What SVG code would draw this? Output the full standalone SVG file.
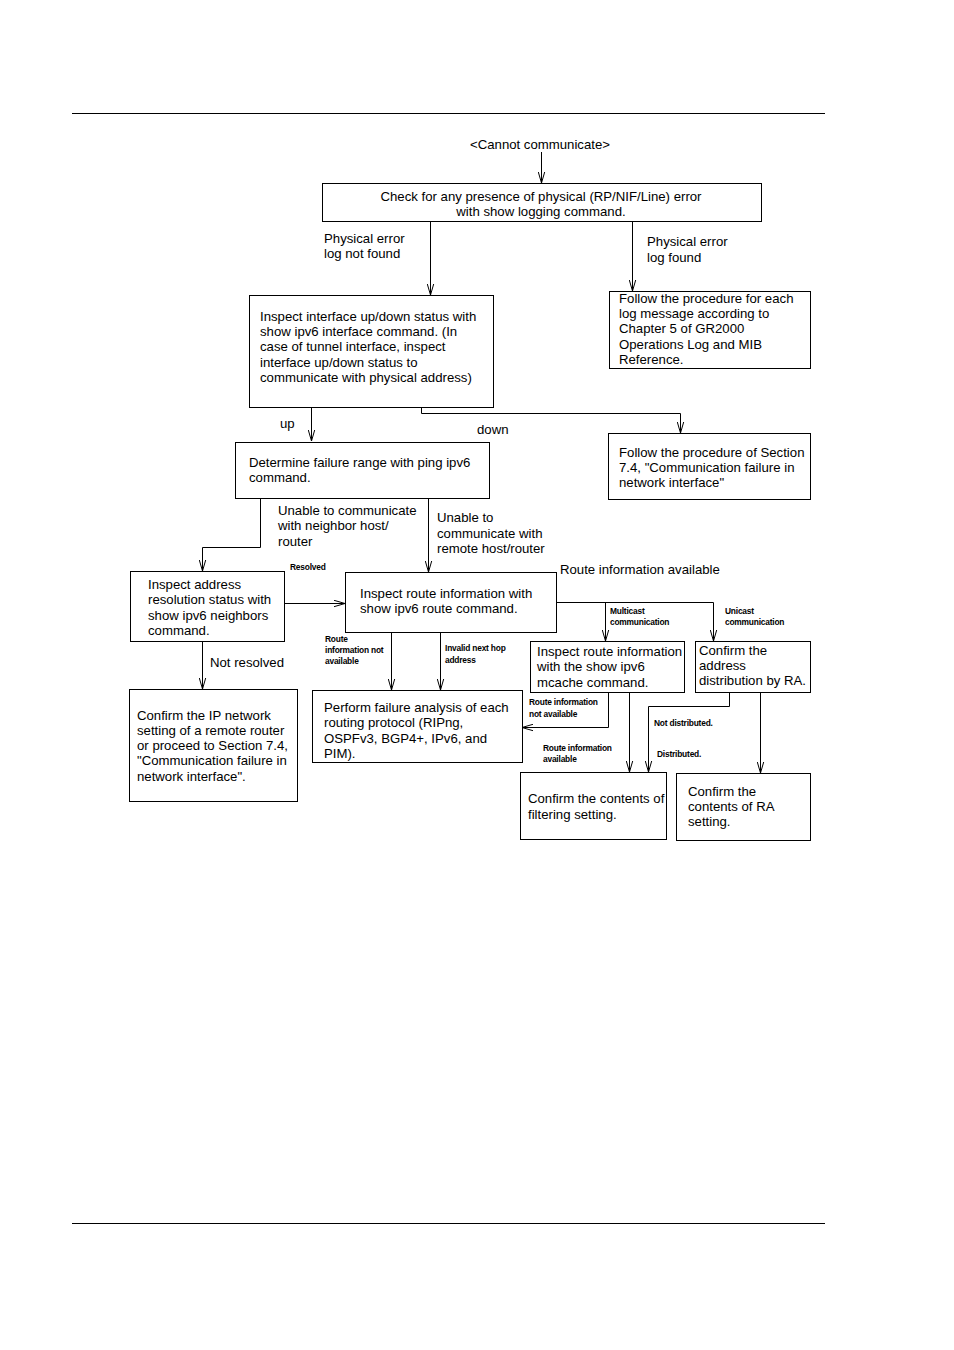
<svg xmlns="http://www.w3.org/2000/svg" width="954" height="1350" viewBox="0 0 954 1350">
<style>
  .t { font-family: "Liberation Sans", Arial, sans-serif; font-size: 13.2px; fill: #000; }
  .c { text-anchor: middle; }
  .s { font-family: "Liberation Sans", Arial, sans-serif; font-size: 8.4px; font-weight: bold; fill: #000; letter-spacing: -0.2px; }
  .box { fill: #fff; stroke: #000; stroke-width: 1; }
  .ln { fill: none; stroke: #000; stroke-width: 1; }
  .ar { fill: none; stroke: #000; stroke-width: 1; marker-end: url(#v); }
</style>
<defs>
  <marker id="v" viewBox="0 0 11 8" refX="11" refY="4" markerWidth="11" markerHeight="8" markerUnits="userSpaceOnUse" orient="auto">
    <path d="M0,0.8 L11,4 L0,7.2" fill="none" stroke="#000" stroke-width="1"/>
  </marker>
</defs>
<rect width="954" height="1350" fill="#fff"/>
<line x1="72" y1="113.5" x2="825" y2="113.5" stroke="#000" stroke-width="1"/>
<line x1="72" y1="1223.5" x2="825" y2="1223.5" stroke="#000" stroke-width="1"/>

<g id="connectors">
  <path class="ar" d="M541.5,152 V183"/>
  <path class="ar" d="M430.5,221 V295"/>
  <path class="ar" d="M632.5,221 V291"/>
  <path class="ar" d="M311.5,407 V441"/>
  <path class="ar" d="M421.5,407 V413.5 H680.5 V433"/>
  <path class="ar" d="M260.5,498 V547.5 H202.5 V571"/>
  <path class="ar" d="M428.5,498 V572"/>
  <path class="ar" d="M284,603.5 H345"/>
  <path class="ln" d="M556,602.5 H713.5"/>
  <path class="ar" d="M605.5,602.5 V641"/>
  <path class="ar" d="M713.5,602.5 V641"/>
  <path class="ar" d="M391.5,632 V690"/>
  <path class="ar" d="M440.5,632 V690"/>
  <path class="ar" d="M202.5,641 V689"/>
  <path class="ar" d="M608.5,692 V727.5 H522"/>
  <path class="ar" d="M629.5,692 V772"/>
  <path class="ar" d="M729.5,692 V706.5 H648.5 V772"/>
  <path class="ar" d="M760.5,692 V773"/>
</g>

<g id="labels">
  <text class="t c" x="540" y="149">&lt;Cannot communicate&gt;</text>
  <text class="t" x="324" y="243">Physical error</text>
  <text class="t" x="324" y="258">log not found</text>
  <text class="t" x="647" y="246">Physical error</text>
  <text class="t" x="647" y="262">log found</text>
  <text class="t" x="280" y="428">up</text>
  <text class="t" x="477" y="434">down</text>
  <text class="t" x="278" y="515">Unable to communicate</text>
  <text class="t" x="278" y="530">with neighbor host/</text>
  <text class="t" x="278" y="546">router</text>
  <text class="t" x="437" y="522">Unable to</text>
  <text class="t" x="437" y="538">communicate with</text>
  <text class="t" x="437" y="553">remote host/router</text>
  <text class="s" x="290" y="570">Resolved</text>
  <text class="t" x="560" y="574">Route information available</text>
  <text class="s" x="610" y="614">Multicast</text>
  <text class="s" x="610" y="625">communication</text>
  <text class="s" x="725" y="614">Unicast</text>
  <text class="s" x="725" y="625">communication</text>
  <text class="s" x="325" y="642">Route</text>
  <text class="s" x="325" y="653">information not</text>
  <text class="s" x="325" y="664">available</text>
  <text class="s" x="445" y="651">Invalid next hop</text>
  <text class="s" x="445" y="663">address</text>
  <text class="t" x="210" y="667">Not resolved</text>
  <text class="s" x="529" y="705">Route information</text>
  <text class="s" x="529" y="717">not available</text>
  <text class="s" x="543" y="751">Route information</text>
  <text class="s" x="543" y="762">available</text>
  <text class="s" x="654" y="726">Not distributed.</text>
  <text class="s" x="657" y="757">Distributed.</text>
</g>

<g id="n-check">
  <rect class="box" x="322.5" y="183.5" width="439" height="38"/>
  <text class="t c" x="541" y="201">Check for any presence of physical (RP/NIF/Line) error</text>
  <text class="t c" x="541" y="216">with show logging command.</text>
</g>
<g id="n-interface">
  <rect class="box" x="249.5" y="295.5" width="244" height="112"/>
  <text class="t" x="260" y="321">Inspect interface up/down status with</text>
  <text class="t" x="260" y="336">show ipv6 interface command. (In</text>
  <text class="t" x="260" y="351">case of tunnel interface, inspect</text>
  <text class="t" x="260" y="367">interface up/down status to</text>
  <text class="t" x="260" y="382">communicate with physical address)</text>
</g>
<g id="n-logproc">
  <rect class="box" x="609.5" y="291.5" width="201" height="77"/>
  <text class="t" x="619" y="303">Follow the procedure for each</text>
  <text class="t" x="619" y="318">log message according to</text>
  <text class="t" x="619" y="333">Chapter 5 of GR2000</text>
  <text class="t" x="619" y="349">Operations Log and MIB</text>
  <text class="t" x="619" y="364">Reference.</text>
</g>
<g id="n-section74">
  <rect class="box" x="608.5" y="433.5" width="202" height="66"/>
  <text class="t" x="619" y="457">Follow the procedure of Section</text>
  <text class="t" x="619" y="472">7.4, "Communication failure in</text>
  <text class="t" x="619" y="487">network interface"</text>
</g>
<g id="n-range">
  <rect class="box" x="235.5" y="442.5" width="254" height="56"/>
  <text class="t" x="249" y="467">Determine failure range with ping ipv6</text>
  <text class="t" x="249" y="482">command.</text>
</g>
<g id="n-neighbors">
  <rect class="box" x="130.5" y="571.5" width="154" height="70"/>
  <text class="t" x="148" y="589">Inspect address</text>
  <text class="t" x="148" y="604">resolution status with</text>
  <text class="t" x="148" y="620">show ipv6 neighbors</text>
  <text class="t" x="148" y="635">command.</text>
</g>
<g id="n-route">
  <rect class="box" x="345.5" y="572.5" width="211" height="60"/>
  <text class="t" x="360" y="598">Inspect route information with</text>
  <text class="t" x="360" y="613">show ipv6 route command.</text>
</g>
<g id="n-mcache">
  <rect class="box" x="530.5" y="641.5" width="154" height="51"/>
  <text class="t" x="537" y="656">Inspect route information</text>
  <text class="t" x="537" y="671">with the show ipv6</text>
  <text class="t" x="537" y="687">mcache command.</text>
</g>
<g id="n-ra">
  <rect class="box" x="695.5" y="641.5" width="115" height="51"/>
  <text class="t" x="699" y="655">Confirm the</text>
  <text class="t" x="699" y="670">address</text>
  <text class="t" x="699" y="685">distribution by RA.</text>
</g>
<g id="n-ipnet">
  <rect class="box" x="129.5" y="689.5" width="168" height="112"/>
  <text class="t" x="137" y="720">Confirm the IP network</text>
  <text class="t" x="137" y="735">setting of a remote router</text>
  <text class="t" x="137" y="750">or proceed to Section 7.4,</text>
  <text class="t" x="137" y="765">"Communication failure in</text>
  <text class="t" x="137" y="781">network interface".</text>
</g>
<g id="n-analysis">
  <rect class="box" x="312.5" y="690.5" width="210" height="72"/>
  <text class="t" x="324" y="712">Perform failure analysis of each</text>
  <text class="t" x="324" y="727">routing protocol (RIPng,</text>
  <text class="t" x="324" y="743">OSPFv3, BGP4+, IPv6, and</text>
  <text class="t" x="324" y="758">PIM).</text>
</g>
<g id="n-filtering">
  <rect class="box" x="520.5" y="772.5" width="146" height="67"/>
  <text class="t" x="528" y="803">Confirm the contents of</text>
  <text class="t" x="528" y="819">filtering setting.</text>
</g>
<g id="n-rasetting">
  <rect class="box" x="676.5" y="773.5" width="134" height="67"/>
  <text class="t" x="688" y="796">Confirm the</text>
  <text class="t" x="688" y="811">contents of RA</text>
  <text class="t" x="688" y="826">setting.</text>
</g>
</svg>
